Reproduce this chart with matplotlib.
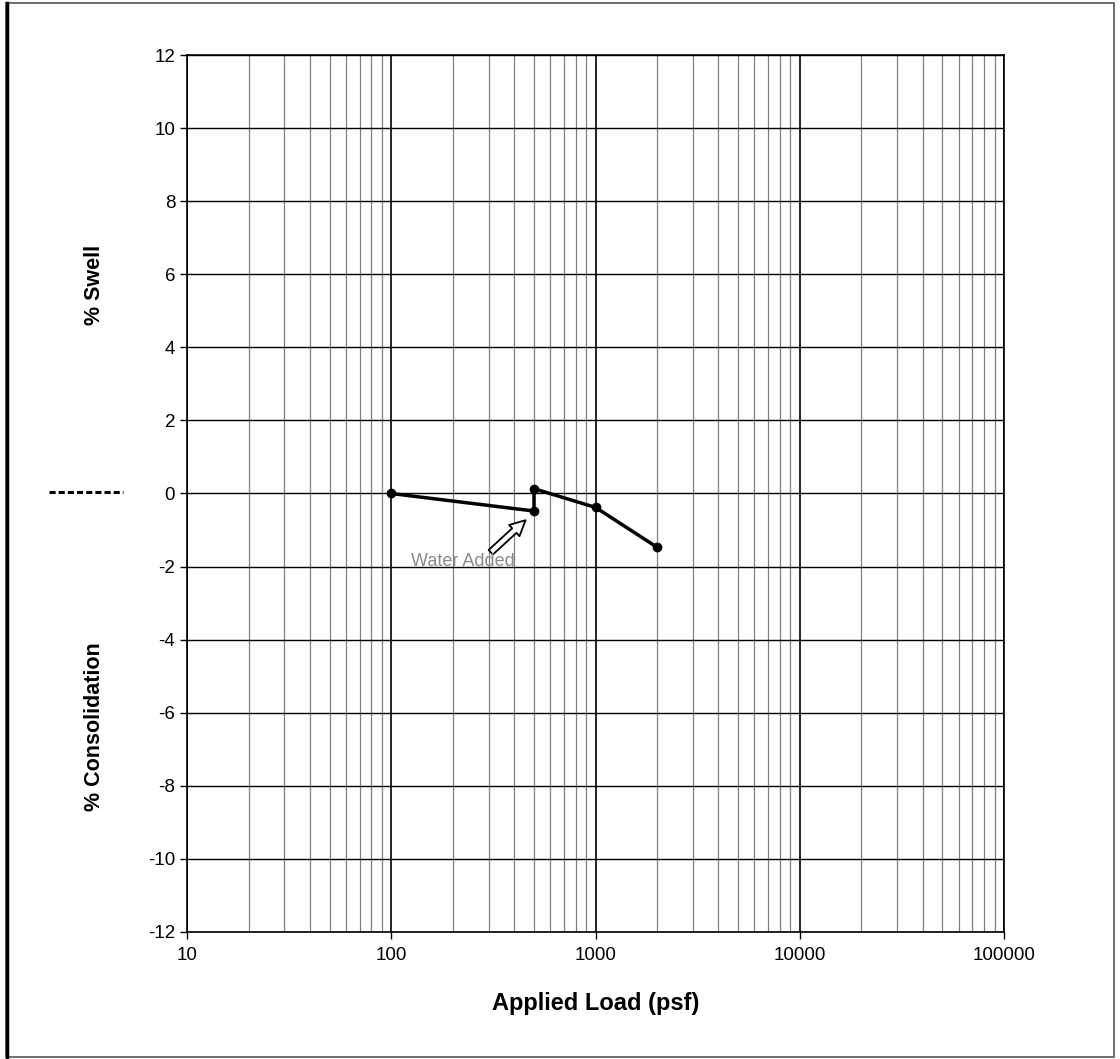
import matplotlib.pyplot as plt
from matplotlib.patches import Rectangle
from matplotlib.ticker import FixedLocator, NullFormatter

# Swell / consolidation test data
load_psf = [100, 500, 500, 1000, 2000]
pct_change = [0.0, -0.48, 0.13, -0.38, -1.47]

x_ticks = [10, 100, 1000, 10000, 100000]
x_tick_labels = ['10', '100', '1000', '10000', '100000']
y_ticks = list(range(-12, 13, 2))

plt.rcParams['font.family'] = ['Liberation Sans', 'DejaVu Sans']
plt.rcParams['axes.unicode_minus'] = False

fig = plt.figure(figsize=(11.2, 10.59), dpi=100)
ax = fig.add_axes([0.167, 0.12, 0.7294, 0.828])

# outer frame around the whole sheet
fig.patches.append(Rectangle((0.005, 0.002), 0.99, 0.995, transform=fig.transFigure,
                             fill=False, edgecolor='#555555', linewidth=1.2))
fig.add_artist(plt.Line2D([0.006, 0.006], [0.002, 0.997], transform=fig.transFigure,
                          color='black', linewidth=2.5))

ax.set_xscale('log')
ax.set_xlim(10, 100000)
ax.set_ylim(-12, 12)

# grid lines
minor = [m * d for d in [10, 100, 1000, 10000] for m in range(2, 10)]
for v in minor:
    ax.axvline(v, color='#808080', linewidth=0.9, zorder=1)
for v in x_ticks:
    ax.axvline(v, color='black', linewidth=1.2, zorder=1)
for v in y_ticks:
    ax.axhline(v, color='black', linewidth=1.0, zorder=1)

ax.plot(load_psf, pct_change, color='black', linewidth=2.5, marker='o',
        markersize=6, zorder=3)

ax.xaxis.set_major_locator(FixedLocator(x_ticks))
ax.set_xticklabels(x_tick_labels)
ax.xaxis.set_minor_locator(FixedLocator(minor))
ax.xaxis.set_minor_formatter(NullFormatter())
ax.set_yticks(y_ticks)
ax.set_yticklabels([str(v) for v in y_ticks])
ax.tick_params(axis='both', which='major', labelsize=13.5, length=5, width=1, direction='out')
ax.tick_params(axis='x', which='minor', length=0)
ax.tick_params(axis='x', pad=6)

for s in ax.spines.values():
    s.set_linewidth(1.2)

ax.set_xlabel('Applied Load (psf)', fontsize=17, fontweight='bold', labelpad=20)

# split y labels
ylab = dict(rotation=90, ha='center', va='center', fontsize=15.5, fontweight='bold')
fig.text(95 / 1120, 1 - 285 / 1059, '% Swell', **ylab)
fig.text(95 / 1120, 1 - 727 / 1059, '% Consolidation', **ylab)
fig.add_artist(plt.Line2D([49 / 1120, 123 / 1120], [1 - 492 / 1059, 1 - 492 / 1059],
                          transform=fig.transFigure, color='black', linewidth=2.2,
                          linestyle=(0, (2, 1))))

# water added note
ax.annotate('', xy=(465, -0.68), xytext=(300, -1.66),
            arrowprops=dict(arrowstyle='simple,head_width=1.1,head_length=1.1,tail_width=0.45',
                            fc='white', ec='black', lw=1.3), zorder=4)
ax.text(225, -1.86, 'Water Added', ha='center', va='center', fontsize=13,
        color='#8a8a8a', zorder=4)

fig.savefig('out.png', dpi=100)
